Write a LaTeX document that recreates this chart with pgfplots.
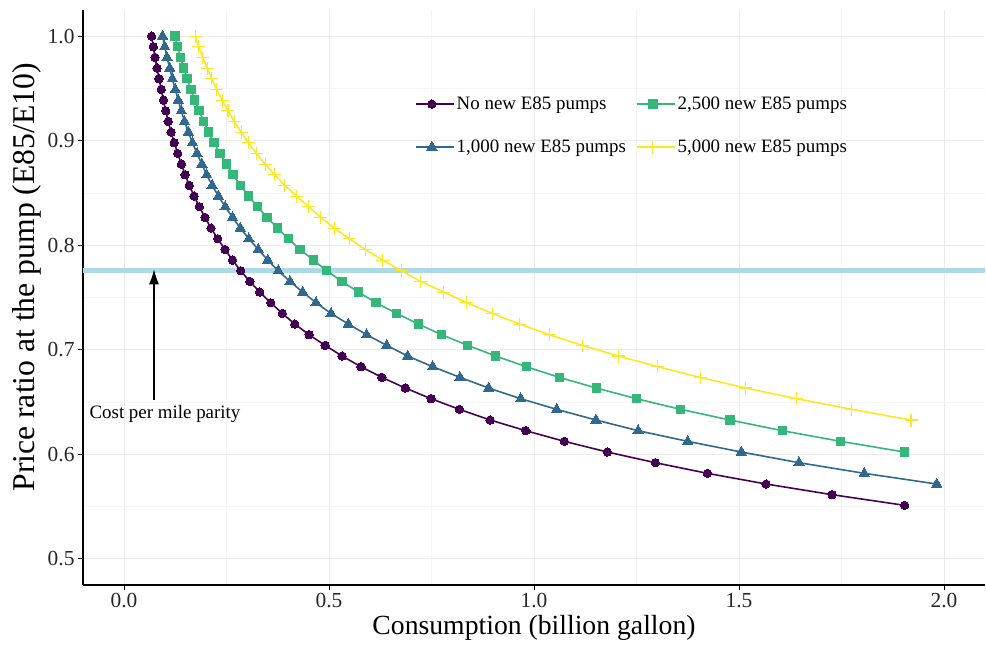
\documentclass[border=0pt]{standalone}
\usepackage{fontspec}
\setmainfont{Liberation Serif}
\usepackage{pgfplots}
\usepackage{pgfplotstable}
\pgfplotsset{compat=1.18}
\usetikzlibrary{arrows.meta}
\definecolor{vpurple}{HTML}{440154}
\definecolor{vblue}{HTML}{31688E}
\definecolor{vgreen}{HTML}{35B779}
\definecolor{vyellow}{HTML}{FDE725}
\definecolor{parity}{HTML}{ADD8E6}
\definecolor{gridmaj}{HTML}{EBEBEB}
\definecolor{gridmin}{HTML}{F5F5F5}

\pgfplotstableread{
x y
0.0675 1.0000
0.0715 0.9898
0.0756 0.9796
0.0806 0.9694
0.0854 0.9592
0.0908 0.9490
0.0962 0.9388
0.1018 0.9286
0.1078 0.9184
0.1150 0.9082
0.1225 0.8980
0.1310 0.8878
0.1400 0.8776
0.1490 0.8674
0.1593 0.8572
0.1710 0.8470
0.1837 0.8368
0.1976 0.8266
0.2122 0.8164
0.2285 0.8062
0.2463 0.7960
0.2645 0.7858
0.2846 0.7756
0.3070 0.7654
0.3310 0.7552
0.3578 0.7450
0.3860 0.7348
0.4165 0.7246
0.4515 0.7144
0.4905 0.7042
0.5320 0.6940
0.5780 0.6838
0.6290 0.6736
0.6860 0.6634
0.7490 0.6532
0.8180 0.6430
0.8930 0.6328
0.9800 0.6226
1.0740 0.6124
1.1790 0.6022
1.2960 0.5920
1.4230 0.5818
1.5660 0.5716
1.7270 0.5614
1.9040 0.5512
}\nopumps

\pgfplotstableread{
x y
0.0940 1.0000
0.0994 0.9898
0.1048 0.9796
0.1115 0.9694
0.1179 0.9592
0.1251 0.9490
0.1323 0.9388
0.1397 0.9286
0.1476 0.9184
0.1571 0.9082
0.1670 0.8980
0.1781 0.8878
0.1899 0.8776
0.2017 0.8674
0.2151 0.8572
0.2303 0.8470
0.2468 0.8368
0.2647 0.8266
0.2836 0.8164
0.3045 0.8062
0.3274 0.7960
0.3506 0.7858
0.3763 0.7756
0.4048 0.7654
0.4358 0.7552
0.4683 0.7450
0.5049 0.7348
0.5471 0.7246
0.5919 0.7144
0.6407 0.7042
0.6919 0.6940
0.7529 0.6838
0.8195 0.6736
0.8895 0.6634
0.9675 0.6532
1.0553 0.6430
1.1512 0.6328
1.2540 0.6226
1.3749 0.6124
1.5056 0.6022
1.6463 0.5920
1.8056 0.5818
1.9822 0.5716
}\pumpsA

\pgfplotstableread{
x y
0.1240 1.0000
0.1307 0.9898
0.1379 0.9796
0.1456 0.9694
0.1540 0.9592
0.1630 0.9490
0.1726 0.9388
0.1831 0.9286
0.1943 0.9184
0.2065 0.9082
0.2196 0.8980
0.2339 0.8878
0.2493 0.8776
0.2660 0.8674
0.2841 0.8572
0.3040 0.8470
0.3256 0.8368
0.3490 0.8266
0.3740 0.8164
0.4008 0.8062
0.4293 0.7960
0.4618 0.7858
0.4943 0.7756
0.5315 0.7654
0.5715 0.7552
0.6145 0.7450
0.6651 0.7348
0.7178 0.7246
0.7749 0.7144
0.8383 0.7042
0.9066 0.6940
0.9813 0.6838
1.0617 0.6736
1.1520 0.6634
1.2500 0.6532
1.3578 0.6430
1.4780 0.6328
1.6057 0.6226
1.7480 0.6124
1.9032 0.6022
}\pumpsB

\pgfplotstableread{
x y
0.1735 1.0000
0.1825 0.9898
0.1922 0.9796
0.2028 0.9694
0.2141 0.9592
0.2263 0.9490
0.2394 0.9388
0.2536 0.9286
0.2689 0.9184
0.2856 0.9082
0.3036 0.8980
0.3231 0.8878
0.3443 0.8776
0.3673 0.8674
0.3923 0.8572
0.4210 0.8470
0.4500 0.8368
0.4800 0.8266
0.5130 0.8164
0.5495 0.8062
0.5880 0.7960
0.6310 0.7858
0.6760 0.7756
0.7240 0.7654
0.7790 0.7552
0.8360 0.7450
0.8980 0.7348
0.9650 0.7246
1.0370 0.7144
1.1180 0.7042
1.2060 0.6940
1.3020 0.6838
1.4050 0.6736
1.5163 0.6634
1.6407 0.6532
1.7749 0.6430
1.9195 0.6328
}\pumpsC

\begin{document}
\begin{tikzpicture}
\clip (0,0) rectangle (986bp,655bp);
\begin{axis}[
  at={(83bp,70bp)}, anchor=south west,
  scale only axis, width=902bp, height=575bp,
  xmin=-0.1, xmax=2.1, ymin=0.475, ymax=1.025,
  xtick={0,0.5,1,1.5,2},
  ytick={0.5,0.6,0.7,0.8,0.9,1.0},
  minor xtick={0.25,0.75,1.25,1.75},
  minor ytick={0.55,0.65,0.75,0.85,0.95},
  grid=both,
  major grid style={gridmaj, line width=1bp},
  minor grid style={gridmin, line width=0.7bp},
  axis x line*=bottom, axis y line*=left,
  axis line style={black, line width=1.4bp},
  tick align=outside, major tick length=5bp, minor tick length=0pt,
  major tick style={black, line width=1bp},
  /pgf/number format/assume math mode=true,
  xticklabel={\pgfmathprintnumber[fixed, fixed zerofill, precision=1]{\tick}},
  yticklabel={\pgfmathprintnumber[fixed, fixed zerofill, precision=1]{\tick}},
  ticklabel style={font=\fontsize{21.5}{24}\selectfont, text=black!85},
  xlabel={Consumption (billion gallon)},
  ylabel={Price ratio at the pump (E85/E10)},
  xlabel style={font=\fontsize{27.8}{30}\selectfont},
  ylabel style={font=\fontsize{31.8}{34}\selectfont, at={(ticklabel cs:0.535)}},
  legend columns=2,
  legend cell align=left,
  legend style={draw=none, fill=none, at={(0.368,0.8525)}, anchor=north west,
    font=\fontsize{19}{22}\selectfont, inner sep=0pt,
    row sep=25bp,
    /tikz/every even column/.append style={column sep=8bp}},
  legend image code/.code={
    \path (0bp,0bp) -- (38bp,0bp);
    \draw[mark repeat=2, mark phase=2, #1] plot coordinates {(0bp,0bp) (16bp,0bp) (32bp,0bp)};
  },
]
\addplot[parity, line width=4.7bp, forget plot] coordinates {(-0.1,0.776) (2.1,0.776)};

\addplot[vpurple, line width=1.6bp, mark=*, mark size=4.2bp, mark options={solid, fill=vpurple, draw=vpurple, line width=0pt}] table[x=x, y=y] {\nopumps};
\addlegendentry{No new E85 pumps}
\addplot[vgreen, line width=1.6bp, mark=square*, mark size=4.2bp, mark options={solid, fill=vgreen, draw=vgreen, line width=0pt}] table[x=x, y=y] {\pumpsB};
\addlegendentry{2,500 new E85 pumps}
\addplot[vblue, line width=1.6bp, mark=triangle*, mark size=6bp, mark options={solid, fill=vblue, draw=vblue, line width=0pt}] table[x=x, y=y] {\pumpsA};
\addlegendentry{1,000 new E85 pumps}
\addplot[vyellow, line width=1.6bp, mark=+, mark size=6.5bp, mark options={solid, draw=vyellow, line width=1.1bp}] table[x=x, y=y] {\pumpsC};
\addlegendentry{5,000 new E85 pumps}

\draw[-{Latex[length=15bp,width=10bp]}, line width=1.3bp, black] (axis cs:0.0732,0.652) -- (axis cs:0.0732,0.777);
\node[anchor=base, font=\fontsize{19}{22}\selectfont, inner sep=0pt] at (axis cs:0.1,0.6343) {Cost per mile parity};
\end{axis}
\end{tikzpicture}
\end{document}
